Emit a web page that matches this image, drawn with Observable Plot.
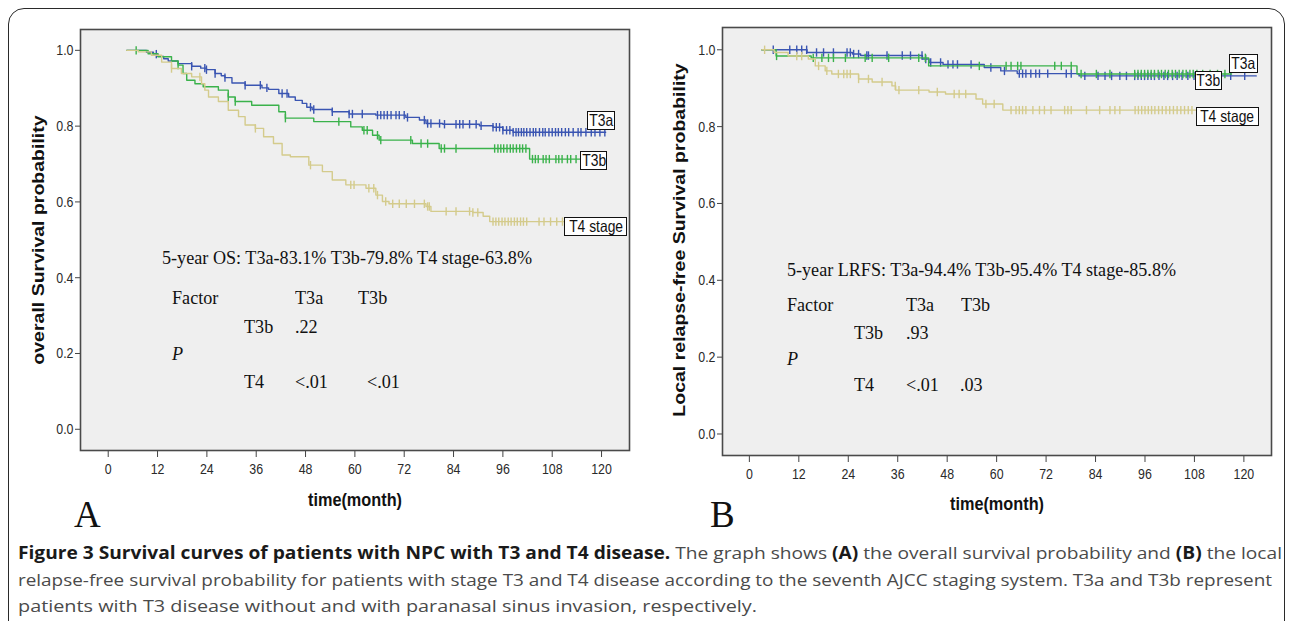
<!DOCTYPE html>
<html><head><meta charset="utf-8">
<script src="https://cdn.jsdelivr.net/npm/d3@7"></script>
<script src="https://cdn.jsdelivr.net/npm/@observablehq/plot@0.6"></script>
<style>
html,body{margin:0;padding:0;background:#fff}
body{width:1290px;height:621px;position:relative;overflow:hidden}
#box{position:absolute;left:8px;top:8px;width:1277px;height:660px;border:1.6px solid #2a2a2a;border-radius:16px;box-sizing:border-box}
.pan{position:absolute;top:0}
.t{position:absolute;white-space:nowrap}
.t span{display:inline-block;transform-origin:0 50%;white-space:nowrap}
.lab{position:absolute;box-sizing:border-box;border:1.3px solid #111;background:#fff;display:flex;align-items:center;justify-content:center;font-family:"Liberation Sans",Arial,sans-serif;font-size:16.5px;color:#111}
.lab span{display:inline-block;transform:scaleX(0.84);white-space:nowrap}
.rot{position:absolute;white-space:nowrap;transform:translate(-50%,-50%) rotate(-90deg) scaleY(0.82);font-family:"Liberation Sans",Arial,sans-serif;font-weight:bold;font-size:19.5px;color:#111}
</style></head><body>
<div id="box"></div>
<div id="pA" class="pan" style="left:0"></div>
<div id="pB" class="pan" style="left:645px"></div>
<script>
// ---------- data ----------
const groups = ["T3a", "T3b", "T4 stage"];
const xTicks = [0, 12, 24, 36, 48, 60, 72, 84, 96, 108, 120];
const yTicks = [0.0, 0.2, 0.4, 0.6, 0.8, 1.0];

// Panel A: overall survival (time in months, survival probability)
const osT3a = [[4.5,1.0],[9.3,0.995],[11,0.99],[12.1,0.984],[13.5,0.978],[14.6,0.972],[17.0,0.965],[20.3,0.958],[22.5,0.953],[23.9,0.949],[26.0,0.939],[27.5,0.933],[28.4,0.928],[30.1,0.914],[33.3,0.908],[37.4,0.901],[39.0,0.897],[41.5,0.886],[43.9,0.877],[45.5,0.868],[47.2,0.860],[48.3,0.850],[49.6,0.844],[54.5,0.838],[58.6,0.832],[65.1,0.829],[72.4,0.823],[75.7,0.816],[77.3,0.807],[81.4,0.805],[90.3,0.801],[93.6,0.797],[96.0,0.789],[98.5,0.784],[121,0.784]];
const osT3b = [[4.5,1.0],[9.7,0.991],[12.1,0.983],[15.4,0.972],[17.0,0.961],[18.2,0.939],[19.1,0.921],[21.1,0.912],[23.1,0.904],[26.8,0.895],[29.2,0.877],[30.9,0.865],[34.9,0.855],[41.5,0.838],[43.1,0.821],[50.0,0.812],[59.0,0.798],[61.8,0.789],[64.3,0.776],[65.9,0.763],[74.0,0.754],[80.5,0.741],[102.5,0.713],[116,0.713]];
const osT4 = [[4.5,1.0],[7.3,0.996],[10.5,0.987],[13,0.969],[15.4,0.952],[17.8,0.939],[20.3,0.930],[22.7,0.912],[23.5,0.895],[24.4,0.877],[26.8,0.865],[29.2,0.842],[31.7,0.825],[33.3,0.803],[35.8,0.794],[37.8,0.772],[40.2,0.754],[42.3,0.724],[44.3,0.719],[48.8,0.697],[52.1,0.680],[54.5,0.658],[57.8,0.645],[62.7,0.636],[65.1,0.618],[66.7,0.601],[68.3,0.595],[77.3,0.588],[78.5,0.575],[88.7,0.572],[91.2,0.562],[92.8,0.548],[113,0.548]];
const osT3aCens = [11.7,20.3,23.5,23.9,26.0,28.4,33.3,37.0,38.6,42.3,43.5,49.2,50.0,54.5,58.6,59.4,61.8,65.5,66.3,67.1,67.9,68.8,70.0,70.8,72.0,72.8,76.9,77.7,78.5,80.6,81.8,84.6,85.5,86.3,87.9,89.5,90.7,93.6,94.4,95.2,96.0,96.9,97.7,98.5,99.2,99.8,100.5,101.1,101.8,102.6,103.4,104.0,104.9,105.7,106.3,107.2,108.0,108.8,109.5,110.3,111.2,112.0,113.1,114.3,115.0,116.2,117.5,118.4,119.6,120.8];
const osT3bCens = [6.8,17.0,29.2,30.9,43.1,56.1,62.2,63.0,65.5,66.3,73.6,76.1,77.7,81.0,81.8,84.6,94.0,94.8,95.5,96.2,97.0,97.8,98.5,99.3,100.1,100.8,101.6,103.2,103.9,104.6,105.8,106.5,107.3,108.9,109.6,110.4,111.7,112.5,113.8,115.2];
const osT4Cens = [15.4,22.3,35.8,49.2,59.0,59.8,63.4,64.6,65.5,67.5,69.2,70.8,72.5,74.5,76.9,77.7,78.1,82.2,84.6,87.9,88.7,89.9,93.6,94.3,95.0,95.8,96.5,97.3,98.0,98.8,99.5,100.3,101.0,101.8,104.8,106.0,107.6,109.1,110.5,111.8];

// Panel B: local relapse-free survival
const lrT3a = [[3,1.0],[14,0.993],[25,0.989],[27,0.985],[42,0.976],[43.6,0.967],[47,0.962],[57,0.954],[61,0.945],[65,0.938],[80,0.932],[123,0.932]];
const lrT3b = [[3,1.0],[6.5,0.984],[15,0.979],[43.5,0.958],[79.5,0.937],[117,0.937]];
const lrT4 = [[3,1.0],[6,0.993],[9.4,0.984],[14.3,0.976],[16,0.958],[18.4,0.945],[20,0.937],[26.5,0.924],[29.8,0.916],[34.6,0.906],[35.5,0.895],[43.6,0.890],[47.6,0.885],[55,0.872],[56.6,0.859],[61.5,0.843],[118,0.843]];
const lrT3aCens = [5.8,9.8,11.5,12.7,13.9,16.3,18.0,20.4,23.7,24.5,25.3,26.5,28.5,28.9,33.4,37.1,39.1,41.9,42.8,44.0,46.4,48.2,49.4,50.5,53.8,58.6,61.9,65.5,66.3,67.1,68.3,69.5,70.4,72.4,76.9,78.1,81.4,84.6,86.3,87.9,89.9,91.5,93.5,94.3,95.1,95.9,96.7,97.5,98.3,99.4,100.6,101.5,102.7,103.8,105.0,106.4,107.9,109.2,111.0,113.5,116.8,120.2];
const lrT3bCens = [6.6,15.5,17.6,19.2,20.4,23.3,28.1,29.8,33.8,41.1,42.7,55.8,62.3,63.5,65.1,65.9,74.1,75.7,78.1,80.5,84.2,87.5,93.5,94.3,95.1,95.9,96.7,97.5,98.3,99.2,100.0,100.9,101.7,102.6,103.4,104.3,105.2,106.0,106.9,107.7,108.6,110.0,111.8,113.6,115.4];
const lrT4Cens = [3.7,11.5,12.7,16.8,18.8,21.6,22.9,23.7,24.5,26.5,28.9,32.2,35.4,36.3,41.1,45.6,49.7,50.9,52.5,57.4,59.4,63.5,64.7,65.5,66.3,67.1,68.8,70.4,71.6,73.2,76.5,77.3,78.1,81.8,85.0,87.5,88.7,89.9,93.6,94.4,95.2,96.0,96.8,97.6,98.4,99.3,100.2,101.1,102.0,102.9,103.8,104.7,105.6,106.5,107.4];

// texts
const osSummary = "5-year OS: T3a-83.1% T3b-79.8% T4 stage-63.8%";
const lrSummary = "5-year LRFS: T3a-94.4% T3b-95.4% T4 stage-85.8%";
const tableHeader = ["Factor", "T3a", "T3b"];
const tableRows = ["T3b", "T4"];
const osP = [[".22"], ["<.01", "<.01"]];
const lrP = [[".93"], ["<.01", ".03"]];
const yTitles = ["overall Survival probability", "Local relapse-free Survival probability"];
const xTitle = "time(month)";
const panelLetters = ["A", "B"];
const caption = [
  [["Figure 3 Survival curves of patients with NPC with T3 and T4 disease.", true], [" The graph shows ", false], ["(A)", true], [" the overall survival probability and ", false], ["(B)", true], [" the local", false]],
  [["relapse-free survival probability for patients with stage T3 and T4 disease according to the seventh AJCC staging system. T3a and T3b represent", false]],
  [["patients with T3 disease without and with paranasal sinus invasion, respectively.", false]]
];

// ---------- styles / layout ----------
const colors = ["#3a55b2", "#3ab24b", "#d4cb8c"];
const sansTick = '"Liberation Sans", Arial, sans-serif';

function stepValue(steps, t) {
  let v = steps[0][1];
  for (const [ti, s] of steps) { if (ti <= t) v = s; else break; }
  return v;
}
const vbar = {draw(ctx, size) { const h = Math.sqrt(size / Math.PI); ctx.moveTo(0, -h); ctx.lineTo(0, h); }};

function panel(series, cens, cfg) {
  const lines = [], dots = [];
  groups.forEach((g, i) => {
    series[i].forEach(([t, s]) => lines.push({g, t, s}));
    cens[i].forEach(t => dots.push({g, t, s: stepValue(series[i], t)}));
  });
  const chart = Plot.plot({
    width: 645, height: 530,
    marginLeft: cfg.ml, marginRight: cfg.mr, marginTop: cfg.mt, marginBottom: cfg.mb,
    x: {domain: cfg.xd},
    y: {domain: cfg.yd},
    color: {domain: groups, range: colors},
    style: {background: "transparent", fontFamily: sansTick, fontSize: "15.5px", color: "#2a2a2a"},
    marks: [
      Plot.frame({fill: "#efefef", stroke: "none"}),
      Plot.axisX({ticks: xTicks, tickSize: 7, tickPadding: 5, label: null, tickFormat: d => String(d), stroke: "#444"}),
      Plot.axisY({ticks: yTicks, tickSize: 5, tickPadding: 2, label: null, tickFormat: d => d.toFixed(1), stroke: "#444"}),
      ...groups.map((g, i) => [
        Plot.line(lines.filter(d => d.g === g), {x: "t", y: "s", stroke: "g", curve: "step-after", strokeWidth: 1.4}),
        Plot.dot(dots.filter(d => d.g === g), {x: "t", y: "s", stroke: "g", fill: "none", symbol: vbar, r: 4.2, strokeWidth: 1.4})
      ]).flat(),
      Plot.frame({stroke: "#4a4a4a", strokeWidth: 1.6})
    ]
  });
  d3.select(chart).selectAll('g[aria-label="x-axis tick label"] text, g[aria-label="y-axis tick label"] text')
    .attr("transform", function() { return (this.getAttribute("transform") || "") + " scale(0.8,1)"; });
  return chart;
}

const chartA = panel([osT3a, osT3b, osT4], [osT3aCens, osT3bCens, osT4Cens],
  {ml: 80, mr: 16, mt: 29, mb: 80, xd: [-6.74, 126.8], yd: [-0.056, 1.055]});
const chartB = panel([lrT3a, lrT3b, lrT4], [lrT3aCens, lrT3bCens, lrT4Cens],
  {ml: 77, mr: 19, mt: 27, mb: 75, xd: [-6.52, 126.7], yd: [-0.056, 1.058]});
document.getElementById("pA").appendChild(chartA);
document.getElementById("pB").appendChild(chartB);

// ---------- overlays ----------
function addText(str, x, cy, o = {}) {
  const lh = o.lh || 24;
  const d = document.createElement("div");
  d.className = "t";
  d.style.left = x + "px"; d.style.top = (cy - lh / 2) + "px"; d.style.lineHeight = lh + "px";
  d.style.fontFamily = o.family || '"Liberation Serif", "Times New Roman", serif';
  d.style.fontSize = (o.size || 19) + "px";
  d.style.fontWeight = o.weight || "normal";
  d.style.fontStyle = o.style || "normal";
  d.style.color = o.color || "#111";
  const s = document.createElement("span");
  if (Array.isArray(str)) {
    str.forEach(([txt, b]) => { const e = document.createElement("span"); e.style.display = "inline"; e.textContent = txt; if (b) { e.style.fontWeight = "bold"; e.style.color = "#1a1a1a"; } s.appendChild(e); });
  } else s.textContent = str;
  d.appendChild(s); document.body.appendChild(d);
  if (o.width) { const w = s.getBoundingClientRect().width; const k = o.width / w; s.style.transform = `scaleX(${k})`; return k; }
  if (o.scale) s.style.transform = `scaleX(${o.scale})`;
  return 1;
}

// annotations panel A
const kA = addText(osSummary, 162, 258, {width: 370});
const colA = {label: 172, row: 244, c1: 295, c2: [358, 367]};
const rowA = [298, 327, 354, 381.5];
addText(tableHeader[0], colA.label, rowA[0], {scale: kA});
addText(tableHeader[1], colA.c1, rowA[0], {scale: kA});
addText(tableHeader[2], colA.c2[0], rowA[0], {scale: kA});
addText(tableRows[0], colA.row, rowA[1], {scale: kA});
addText(osP[0][0], colA.c1, rowA[1], {scale: kA});
addText("P", colA.label, rowA[2], {scale: kA, style: "italic"});
addText(tableRows[1], colA.row, rowA[3], {scale: kA});
addText(osP[1][0], colA.c1, rowA[3], {scale: kA});
addText(osP[1][1], colA.c2[1], rowA[3], {scale: kA});

// annotations panel B
const kB = addText(lrSummary, 787, 270, {width: 389});
const colB = {label: 787, row: 854, c1: 905.5, c2: [961, 960]};
const rowB = [305, 332.5, 359, 385];
addText(tableHeader[0], colB.label, rowB[0], {scale: kB});
addText(tableHeader[1], colB.c1, rowB[0], {scale: kB});
addText(tableHeader[2], colB.c2[0], rowB[0], {scale: kB});
addText(tableRows[0], colB.row, rowB[1], {scale: kB});
addText(lrP[0][0], colB.c1, rowB[1], {scale: kB});
addText("P", colB.label, rowB[2], {scale: kB, style: "italic"});
addText(tableRows[1], colB.row, rowB[3], {scale: kB});
addText(lrP[1][0], colB.c1, rowB[3], {scale: kB});
addText(lrP[1][1], colB.c2[1], rowB[3], {scale: kB});

// curve labels (boxes), anchored in data units through each plot's scales
function addBox(chart, offset, label, t0, t1, s) {
  const x = chart.scale("x"), y = chart.scale("y");
  const l = offset + x.apply(t0), r = offset + x.apply(t1), cy = y.apply(s);
  const d = document.createElement("div");
  d.className = "lab";
  d.style.left = l + "px"; d.style.width = (r - l) + "px"; d.style.top = (cy - 9.5) + "px"; d.style.height = "19px";
  const sp = document.createElement("span"); sp.textContent = label; d.appendChild(sp);
  document.body.appendChild(d);
}
addBox(chartA, 0, groups[0], 116.7, 123.5, 0.813);
addBox(chartA, 0, groups[1], 115.0, 121.5, 0.708);
addBox(chartA, 0, groups[2], 111.0, 126.4, 0.533);
addBox(chartB, 645, groups[0], 116.5, 123.5, 0.963);
addBox(chartB, 645, groups[1], 108.3, 114.8, 0.919);
addBox(chartB, 645, groups[2], 108.5, 123.7, 0.824);

// axis titles
function addRot(str, cx, cy) {
  const d = document.createElement("div"); d.className = "rot";
  d.style.left = cx + "px"; d.style.top = cy + "px"; d.textContent = str; document.body.appendChild(d);
}
addRot(yTitles[0], 39, 240);
addRot(yTitles[1], 680, 240);
function addCenter(str, cx, cy, o) {
  const d = document.createElement("div"); d.className = "t";
  d.style.left = cx + "px"; d.style.top = cy + "px"; d.style.transform = "translate(-50%,-50%) scaleX(" + (o.scale || 1) + ")";
  d.style.fontFamily = o.family; d.style.fontSize = o.size + "px"; d.style.fontWeight = o.weight || "normal"; d.style.color = "#111";
  d.style.lineHeight = "1"; d.textContent = str; document.body.appendChild(d);
}
addCenter(xTitle, 355, 500, {family: sansTick, size: 18.5, weight: "bold", scale: 0.88});
addCenter(xTitle, 997, 504, {family: sansTick, size: 18.5, weight: "bold", scale: 0.88});
addText(panelLetters[0], 74, 515, {size: 37, lh: 40});
addText(panelLetters[1], 710, 515, {size: 37, lh: 40});

// caption
const capFont = '"Open Sans", "Noto Sans", sans-serif';
addText(caption[0], 18, 553, {family: capFont, size: 17, color: "#4a4a4a", lh: 26, width: 1264});
addText(caption[1], 18, 580, {family: capFont, size: 17, color: "#4a4a4a", lh: 26, width: 1254});
addText(caption[2], 18, 606, {family: capFont, size: 17, color: "#4a4a4a", lh: 26, width: 739});
</script></body></html>
